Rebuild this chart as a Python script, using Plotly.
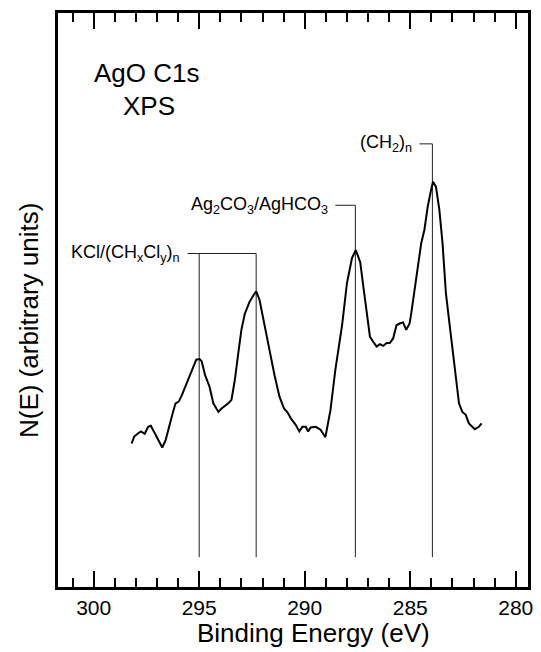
import plotly.graph_objects as go

# Binding energy (eV) and intensity N(E) (arbitrary units)
energy = [298.20, 298.08, 297.92, 297.76, 297.58, 297.42, 297.29, 297.11, 296.91, 296.75,
          296.59, 296.44, 296.24, 296.12, 295.97, 295.81, 295.65, 295.42, 295.27, 295.14,
          294.98, 294.88, 294.72, 294.51, 294.33, 294.09, 293.94, 293.62, 293.47, 293.31,
          293.16, 293.00, 292.84, 292.61, 292.45, 292.30, 292.14, 291.90, 291.67, 291.43,
          291.20, 290.98, 290.81, 290.66, 290.42, 290.26, 290.11, 289.95, 289.84, 289.72,
          289.48, 289.25, 289.02, 288.78, 288.55, 288.31, 288.23, 288.00, 287.76, 287.58,
          287.37, 287.22, 287.06, 286.91, 286.75, 286.59, 286.44, 286.28, 286.12, 285.97,
          285.81, 285.65, 285.50, 285.34, 285.19, 285.03, 284.95, 284.80, 284.64, 284.48,
          284.33, 284.17, 284.01, 283.92, 283.78, 283.62, 283.47, 283.31, 283.16, 283.00,
          282.84, 282.69, 282.53, 282.37, 282.22, 282.06, 281.94, 281.75, 281.62]
intensity = [25.0, 26.2, 26.7, 27.1, 26.7, 27.9, 28.1, 26.9, 25.6, 24.3,
             25.6, 27.9, 30.5, 32.0, 32.3, 33.5, 35.0, 36.9, 38.5, 39.6,
             39.7, 39.3, 36.9, 34.9, 32.0, 30.5, 31.1, 32.0, 32.6, 36.1,
             40.4, 44.8, 47.6, 49.7, 50.7, 51.5, 50.0, 45.4, 41.3, 36.9,
             33.2, 31.1, 30.4, 29.4, 28.2, 27.1, 27.9, 27.9, 27.1, 27.8,
             27.9, 27.4, 26.1, 30.8, 37.8, 43.9, 45.6, 52.9, 57.3, 58.7,
             56.6, 52.3, 47.7, 43.6, 42.7, 41.9, 42.3, 42.0, 42.5, 42.5,
             43.3, 45.6, 45.9, 46.1, 44.8, 45.9, 47.7, 51.7, 55.2, 59.9,
             62.2, 66.3, 69.2, 70.6, 69.7, 65.7, 59.9, 51.2, 46.5, 41.9,
             36.6, 32.0, 30.5, 30.0, 28.5, 27.9, 27.5, 27.9, 28.5]

# Peak assignments: label, marker-line positions (eV), bracket level, label anchor (eV)
peak_labels = ["KCl/(CH<sub>x</sub>Cl<sub>y</sub>)<sub>n</sub>",
               "Ag<sub>2</sub>CO<sub>3</sub>/AgHCO<sub>3</sub>",
               "(CH<sub>2</sub>)<sub>n</sub>"]
peak_lines = [[295.0, 292.3], [287.6], [283.95]]
bracket_level = [58.1, 66.5, 77.2]
bracket_start = [295.55, 288.55, 284.56]
label_anchor = [295.81, 288.78, 284.80]
line_base = 5.2

x_ticks = [300, 295, 290, 285, 280]

font_family = "Liberation Sans, Arial, Helvetica, sans-serif"

fig = go.Figure()

# marker lines + brackets
for lbl, xs, lev, xs0 in zip(peak_labels, peak_lines, bracket_level, bracket_start):
    for xv in xs:
        fig.add_trace(go.Scatter(x=[xv, xv], y=[line_base, lev], mode="lines",
                                 line=dict(color="#222222", width=1), hoverinfo="skip",
                                 showlegend=False))
    fig.add_trace(go.Scatter(x=[xs0, xs[-1]], y=[lev, lev], mode="lines",
                             line=dict(color="#222222", width=1), hoverinfo="skip",
                             showlegend=False))

fig.add_trace(go.Scatter(x=energy, y=intensity, mode="lines",
                         line=dict(color="black", width=2), showlegend=False))

for lbl, lev, xa in zip(peak_labels, bracket_level, label_anchor):
    fig.add_annotation(x=xa, y=lev, text=lbl, showarrow=False, xanchor="right",
                       yanchor="middle", font=dict(size=18, color="black", family=font_family))

fig.add_annotation(x=297.49, y=89.5, text="AgO C1s", showarrow=False, xanchor="center",
                   yanchor="middle", font=dict(size=26, color="black", family=font_family))
fig.add_annotation(x=297.40, y=83.8, text="XPS", showarrow=False, xanchor="center",
                   yanchor="middle", font=dict(size=26, color="black", family=font_family))

# axis titles
fig.add_annotation(xref="paper", yref="paper", x=0.5446, y=-0.080, text="Binding Energy (eV)",
                   showarrow=False, xanchor="center", yanchor="middle",
                   font=dict(size=26, color="black", family=font_family))
fig.add_annotation(xref="paper", yref="paper", x=-0.063, y=0.464, text="N(E) (arbitrary units)",
                   showarrow=False, xanchor="center", yanchor="middle", textangle=-90,
                   font=dict(size=26, color="black", family=font_family))

fig.update_layout(
    width=541, height=652,
    margin=dict(l=58, r=8, t=13, b=65),
    paper_bgcolor="white", plot_bgcolor="white",
    font=dict(family=font_family, color="black"),
    xaxis=dict(range=[301.69, 279.42], showgrid=False, zeroline=False,
               showline=True, linecolor="black", linewidth=3, mirror="ticks",
               ticks="inside", ticklen=16, tickwidth=2, tickcolor="black",
               tickvals=x_ticks, ticktext=[str(v) for v in x_ticks],
               tickfont=dict(size=21, color="black", family=font_family),
               minor=dict(dtick=1, ticks="inside", ticklen=9, tickwidth=1.5, tickcolor="black")),
    yaxis=dict(range=[0, 100], showgrid=False, zeroline=False, showticklabels=False,
               showline=True, linecolor="black", linewidth=3, mirror=True, ticks=""),
)

fig.write_html("out.html")
